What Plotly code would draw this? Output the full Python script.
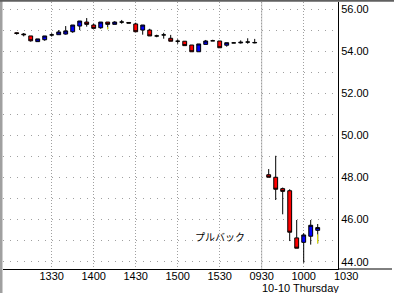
import plotly.graph_objects as go

# ---- data ----
day1_times = ["1305","1310","1315","1320","1325","1330","1335","1340","1345","1350",
              "1355","1400","1405","1410","1415","1420","1425","1430","1435","1440",
              "1445","1450","1455","1500","1505","1510","1515","1520","1525","1530",
              "1535","1540","1545","1550","1555"]
day1_open  = [54.87,54.81,54.72,54.45,54.54,54.77,54.78,54.81,54.92,55.19,
              55.38,55.24,55.11,55.38,55.27,55.38,55.36,55.29,55.00,55.00,
              54.72,54.77,54.61,54.47,54.47,54.29,53.97,54.32,54.49,54.48,
              54.28,54.39,54.39,54.43,54.39]
day1_high  = [54.89,54.86,54.72,54.58,54.72,54.85,55.00,55.19,55.24,55.43,
              55.57,55.30,55.38,55.38,55.42,55.48,55.37,55.35,55.24,55.06,
              54.78,54.87,54.77,54.56,54.47,54.29,54.34,54.53,54.54,54.48,
              54.40,54.43,54.51,54.61,54.58]
day1_low   = [54.78,54.70,54.45,54.45,54.49,54.69,54.78,54.78,54.87,55.00,
              55.16,55.08,55.06,55.04,55.27,55.30,55.33,54.92,54.78,54.72,
              54.66,54.59,54.47,54.35,54.26,53.97,53.97,54.32,54.49,54.16,
              54.21,54.39,54.36,54.35,54.37]
day1_close = [54.84,54.78,54.49,54.58,54.72,54.77,54.91,54.96,55.24,55.43,
              55.27,55.08,55.38,55.27,55.38,55.38,55.33,54.92,55.24,54.72,
              54.72,54.77,54.47,54.47,54.26,53.97,54.34,54.48,54.49,54.16,
              54.40,54.39,54.42,54.43,54.41]

day2_times = ["0935","0940","0945","0950","0955","1000","1005","1010"]
day2_open  = [48.13,48.01,47.47,47.37,45.13,44.92,45.21,45.49]
day2_high  = [48.40,49.03,47.52,47.44,45.98,45.35,45.98,45.79]
day2_low   = [48.01,46.93,46.25,44.98,44.64,43.95,44.81,44.87]
day2_close = [48.01,47.44,47.34,45.40,44.64,45.27,45.73,45.62]

# yellow lower-wick marks: (day, time, top, bottom)
yellow_marks = [(1, "1410", 55.14, 55.04), (2, "1010", 45.30, 44.87)]

tick_labels = ["1330","1400","1430","1500","1530","0930","1000","1030"]
tick_days   = [1, 1, 1, 1, 1, 2, 2, 2]
y_ticks = [44, 46, 48, 50, 52, 54, 56]
day2_label = "10-10 Thursday"
note_text = "プルバック"


def mins(t):
    return int(t[:2]) * 60 + int(t[2:])


def pos(day, t):
    # continuous 5-minute slot index; 16:00 of day 1 == 09:30 of day 2
    if day == 1:
        return (mins(t) - 13 * 60) / 5.0
    return 36 + (mins(t) - (9 * 60 + 30)) / 5.0


x_all = [pos(1, t) for t in day1_times] + [pos(2, t) for t in day2_times]
o_all = day1_open + day2_open
h_all = day1_high + day2_high
l_all = day1_low + day2_low
c_all = day1_close + day2_close

tick_pos = [pos(d, t) for d, t in zip(tick_days, tick_labels)]

# pixel layout
W, H = 394, 293
L, R, T, B = 3, 338, 2, 269
x_range = [(L - 9.7) / 7.0, (R - 9.7) / 7.0]
ppu = 21.06
y_range = [44 - (B - 261.7) / ppu, 56 + (9 - T) / ppu]


def px_x(px):
    return (px - L) / (R - L)


def px_y(py):
    return (B - py) / (B - T)


fig = go.Figure()
fig.add_trace(go.Candlestick(
    x=x_all, open=o_all, high=h_all, low=l_all, close=c_all,
    increasing=dict(fillcolor="#0000FF", line=dict(color="black", width=1)),
    decreasing=dict(fillcolor="#FF0000", line=dict(color="black", width=1)),
    whiskerwidth=0, hoverinfo="skip", showlegend=False,
))
for d, t, top, bot in yellow_marks:
    fig.add_trace(go.Scatter(x=[pos(d, t), pos(d, t)], y=[top, bot], mode="lines",
                             line=dict(color="#FFFF00", width=1), hoverinfo="skip",
                             showlegend=False))

in_range = [(p, lab) for p, lab in zip(tick_pos, tick_labels) if x_range[0] <= p <= x_range[1]]
out_range = [(p, lab) for p, lab in zip(tick_pos, tick_labels) if not (x_range[0] <= p <= x_range[1])]

fig.update_xaxes(
    range=x_range, rangeslider=dict(visible=False),
    tickmode="array", tickvals=[p for p, _ in in_range], ticktext=[lab for _, lab in in_range],
    showgrid=True, gridcolor="#A0A0A0", gridwidth=1, griddash="1px,2px",
    showline=True, linecolor="black", linewidth=1, ticks="", zeroline=False,
    ticklabelstandoff=-3,
    tickfont=dict(family="Liberation Sans, Arial", size=11, color="black"),
    fixedrange=True,
)
fig.update_yaxes(
    range=y_range, side="right",
    tickmode="array", tickvals=y_ticks, ticktext=[f"{v:.2f}" for v in y_ticks],
    showgrid=True, gridcolor="#A0A0A0", gridwidth=1, griddash="1px,6px",
    minor=dict(dtick=1, tick0=0, showgrid=True, gridcolor="#A0A0A0", gridwidth=1,
               griddash="1px,6px", ticks=""),
    showline=True, linecolor="black", linewidth=1, ticks="", zeroline=False,
    tickfont=dict(family="Liberation Sans, Arial", size=11, color="black"),
    fixedrange=True,
)

annotations = []
for p, lab in out_range:
    annotations.append(dict(
        x=(p - x_range[0]) / (x_range[1] - x_range[0]), xref="paper",
        y=px_y(275.5), yref="paper", text=lab, showarrow=False,
        xanchor="center", yanchor="middle",
        font=dict(family="Liberation Sans, Arial", size=11, color="black")))
annotations.append(dict(
    x=pos(2, "0930"), xref="x", y=px_y(287.5), yref="paper", text=day2_label,
    showarrow=False, xanchor="left", yanchor="middle", xshift=-2,
    font=dict(family="Liberation Sans, Arial", size=11, color="black")))
annotations.append(dict(
    x=pos(1, "1530"), xref="x", y=45.22, yref="y", text=note_text,
    showarrow=False, xanchor="center", yanchor="middle",
    font=dict(family="Noto Sans CJK JP", size=10, color="black")))

shapes = [
    # day separator
    dict(type="line", xref="x", yref="paper", x0=pos(2, "0930"), x1=pos(2, "0930"),
         y0=0, y1=1, line=dict(color="#C0C0C0", width=1), layer="below"),
    # bottom axis line extension to the right
    dict(type="line", xref="paper", yref="paper", x0=1, x1=px_x(392), y0=0, y1=0,
         line=dict(color="black", width=1)),
    # frame: left and top borders
    dict(type="rect", xref="paper", yref="paper", x0=px_x(0), x1=px_x(2.5),
         y0=px_y(H), y1=px_y(0), fillcolor="#A0A0A0", line=dict(width=0)),
    dict(type="rect", xref="paper", yref="paper", x0=px_x(0), x1=px_x(W),
         y0=px_y(1.7), y1=px_y(0), fillcolor="#606060", line=dict(width=0)),
]

fig.update_layout(
    width=W, height=H,
    margin=dict(l=L, r=W - R, t=T, b=H - B, pad=0),
    paper_bgcolor="white", plot_bgcolor="white",
    showlegend=False, boxgap=0.45, boxgroupgap=0,
    annotations=annotations, shapes=shapes,
    font=dict(family="Liberation Sans, Arial", size=11, color="black"),
)

fig.write_html("out.html", config={"displayModeBar": False})
